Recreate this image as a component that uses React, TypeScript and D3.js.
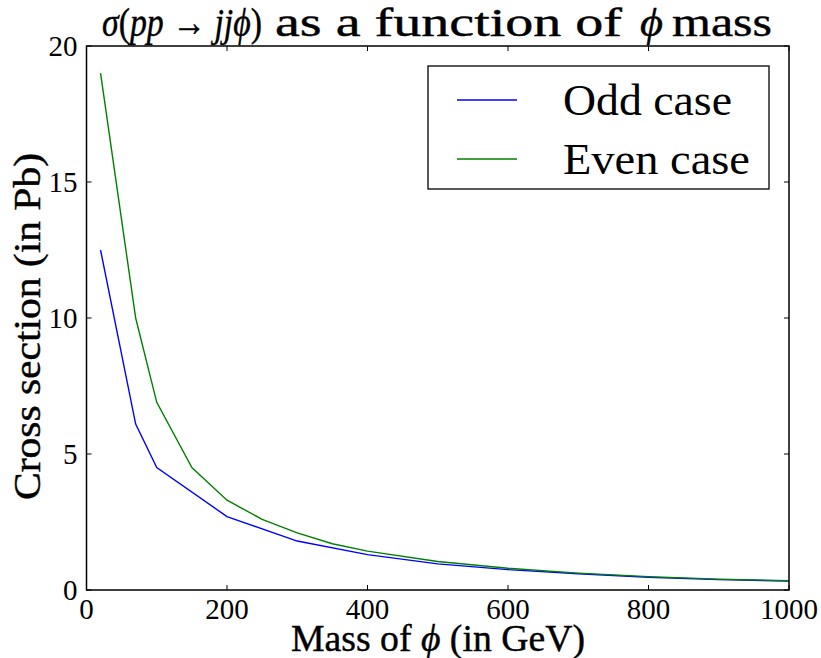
import React from "react";
import * as d3 from "d3";

const oddMass = [20, 70, 100, 200, 300, 400, 500, 600, 700, 800, 900, 1000];
const oddXsec = [12.5, 6.1, 4.5, 2.7, 1.8, 1.3, 0.96, 0.75, 0.6, 0.47, 0.38, 0.33];
const evenMass = [20, 70, 100, 150, 200, 250, 300, 350, 400, 500, 600, 700, 800, 900, 1000];
const evenXsec = [19.0, 10.0, 6.9, 4.5, 3.3, 2.6, 2.1, 1.7, 1.43, 1.05, 0.8, 0.62, 0.49, 0.4, 0.34];
const xTicks = [0, 200, 400, 600, 800, 1000];
const yTicks = [0, 5, 10, 15, 20];
const seriesNames = ["Odd case", "Even case"];
const seriesColors = ["#0000ff", "#008000"];

const W = 821, H = 658;
const L = 86.5, R = 789, T = 46, B = 590;
const FONT = "'Liberation Serif', 'DejaVu Serif', serif";

export default function App() {
  const x = d3.scaleLinear().domain([0, 1000]).range([L, R]);
  const y = d3.scaleLinear().domain([0, 20]).range([B, T]);
  const line = d3.line<[number, number]>().x(d => x(d[0])).y(d => y(d[1]));
  const series = [
    oddMass.map((m, i) => [m, oddXsec[i]] as [number, number]),
    evenMass.map((m, i) => [m, evenXsec[i]] as [number, number]),
  ];
  const tl = 5;
  const legendLens = [169, 187];
  const heavy = { stroke: "#000", strokeWidth: 0.4 };
  return (
    <svg width={W} height={H} style={{ position: "absolute", left: 0, top: 0, background: "#fff" }} fontFamily={FONT}>
      <rect x={0} y={0} width={W} height={H} fill="#fff" />
      {series.map((s, i) => (
        <path key={i} d={line(s) || ""} fill="none" stroke={seriesColors[i]} strokeWidth={1.4} />
      ))}
      {xTicks.map(t => (
        <g key={"x" + t}>
          <line x1={x(t)} x2={x(t)} y1={B} y2={B - tl} stroke="#000" strokeWidth={1} />
          <line x1={x(t)} x2={x(t)} y1={T} y2={T + tl} stroke="#000" strokeWidth={1} />
          <text x={x(t)} y={B + 29} textAnchor="middle" fontSize={29} fill="#000">{t}</text>
        </g>
      ))}
      {yTicks.map(t => (
        <g key={"y" + t}>
          <line x1={L} x2={L + tl} y1={y(t)} y2={y(t)} stroke="#000" strokeWidth={1} />
          <line x1={R} x2={R - tl} y1={y(t)} y2={y(t)} stroke="#000" strokeWidth={1} />
          <text x={L - 9} y={y(t)} dy="0.35em" textAnchor="end" fontSize={29} fill="#000">{t}</text>
        </g>
      ))}
      <rect x={L} y={T} width={R - L} height={B - T} fill="none" stroke="#000" strokeWidth={1.5} />
      {/* legend */}
      <rect x={428} y={66} width={341} height={123} fill="#fff" stroke="#000" strokeWidth={1.3} />
      {seriesNames.map((n, i) => (
        <g key={n}>
          <line x1={457} x2={517} y1={100 + i * 59} y2={100 + i * 59} stroke={seriesColors[i]} strokeWidth={1.4} />
          <text x={563} y={115 + i * 59} fontSize={45} fill="#000" textLength={legendLens[i]} lengthAdjust="spacingAndGlyphs">{n}</text>
        </g>
      ))}
      {/* title */}
      <g fontSize={40} fill="#000" {...heavy}>
        <text x={102} y={36} textLength={160} lengthAdjust="spacingAndGlyphs">
          <tspan fontStyle="italic">σ</tspan>(<tspan fontStyle="italic">pp</tspan> → <tspan fontStyle="italic">jjϕ</tspan>)
        </text>
        <text x={275} y={36} textLength={347} lengthAdjust="spacingAndGlyphs">as a function of</text>
        <text x={640} y={36} fontStyle="italic" textLength={23} lengthAdjust="spacingAndGlyphs">ϕ</text>
        <text x={672} y={36} textLength={100} lengthAdjust="spacingAndGlyphs">mass</text>
      </g>
      {/* axis labels */}
      <text x={291} y={651} fontSize={37} fill="#000" {...heavy} textLength={294} lengthAdjust="spacingAndGlyphs">
        Mass of <tspan fontStyle="italic">ϕ</tspan> (in GeV)
      </text>
      <text transform="translate(40,500) rotate(-90)" fontSize={37} fill="#000" {...heavy} textLength={347} lengthAdjust="spacingAndGlyphs">
        Cross section (in Pb)
      </text>
    </svg>
  );
}
